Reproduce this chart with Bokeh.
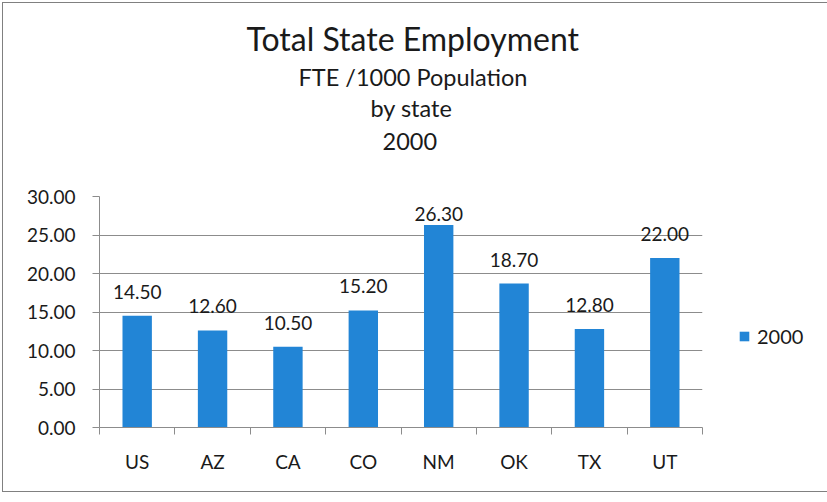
from bokeh.plotting import figure
from bokeh.models import (ColumnDataSource, LabelSet, Title, LinearAxis,
                          FixedTicker, NumeralTickFormatter, Legend, LegendItem)
from bokeh.core.properties import value
from bokeh.embed import file_html
from bokeh.resources import INLINE

states = ["US", "AZ", "CA", "CO", "NM", "OK", "TX", "UT"]
fte_2000 = [14.50, 12.60, 10.50, 15.20, 26.30, 18.70, 12.80, 22.00]
series_name = "2000"
y_ticks = [0, 5, 10, 15, 20, 25, 30]
title_lines = ["Total State Employment", "FTE /1000 Population", "by state", "2000"]

FONT = "Lato"
TXT = "#1a1a1a"
GRID = "#8c8c8c"
BAR = "#2285D6"

FRAME_W, FRAME_H = 603, 231
LEFT, RIGHT, TOP, BOTTOM = 99, 125, 196, 67
ymax = 30
px_per_unit = FRAME_H / ymax

p = figure(x_range=states, y_range=(0, ymax), frame_width=FRAME_W, frame_height=FRAME_H,
           output_backend="svg", toolbar_location=None,
           min_border_left=LEFT, min_border_right=RIGHT,
           min_border_top=TOP, min_border_bottom=BOTTOM)
p.styles = {"outline": "1px solid #808080", "outline-offset": "-3px", "background": "white"}
p.outline_line_color = None
p.background_fill_color = "white"
p.border_fill_color = None

labels_txt = ["%.2f" % v for v in fte_2000]
offsets = [min(24, (ymax - v) * px_per_unit - 17) for v in fte_2000]
src = ColumnDataSource(dict(state=states, val=fte_2000, lab=labels_txt, off=offsets))
r = p.vbar(x="state", top="val", width=0.39, source=src, fill_color=BAR, line_color=None)

ls = LabelSet(x="state", y="val", text="lab", source=src, y_offset="off",
              text_align="center", text_baseline="middle",
              text_font=value(FONT), text_font_size=value("19px"), text_color=TXT)
p.add_layout(ls)

# y axis
p.yaxis.ticker = FixedTicker(ticks=y_ticks)
p.yaxis.formatter = NumeralTickFormatter(format="0.00")
p.yaxis.axis_line_color = GRID
p.yaxis.major_tick_line_color = GRID
p.yaxis.major_tick_out = 7
p.yaxis.major_tick_in = 0
p.yaxis.minor_tick_line_color = None
p.yaxis.major_label_standoff = 17
p.yaxis.major_label_text_font = FONT
p.yaxis.major_label_text_font_size = "19px"
p.yaxis.major_label_text_color = TXT

p.ygrid.grid_line_color = GRID
p.ygrid.ticker = FixedTicker(ticks=y_ticks)
p.xgrid.grid_line_color = None

# x axis (categorical labels)
cat_axis = p.xaxis[0]
cat_axis.axis_line_color = None
cat_axis.major_tick_line_color = None
cat_axis.major_label_standoff = 9
cat_axis.major_label_text_font = FONT
cat_axis.major_label_text_font_size = "19px"
cat_axis.major_label_text_color = TXT

# boundary tick marks between categories (synthetic positions 0..N)
bounds = list(range(len(states) + 1))
tick_axis = LinearAxis(ticker=FixedTicker(ticks=bounds),
                       major_tick_out=7, major_tick_in=0,
                       minor_tick_line_color=None,
                       axis_line_color=GRID, major_tick_line_color=GRID,
                       major_label_overrides={b: "" for b in bounds},
                       major_label_text_font_size="1px", major_label_standoff=0)
p.add_layout(tick_axis, "below")
p.below = [tick_axis, cat_axis]

# legend in the right panel
legend = Legend(items=[LegendItem(label=series_name, renderers=[r])],
                location=(36, 79), orientation="vertical",
                glyph_width=12, glyph_height=12, label_standoff=7,
                label_text_font=FONT, label_text_font_size="20px",
                label_text_color=TXT, padding=0, margin=0, spacing=0,
                border_line_color=None, background_fill_alpha=0)
p.add_layout(legend, "right")

# titles, nearest the plot first (a blank spacer, then the four lines)
title_specs = [(" ", "10px", 23, 0),
               (title_lines[3], "23.5px", 17, 283),
               (title_lines[2], "23.5px", 2, 271),
               (title_lines[1], "23.5px", 0, 199),
               (title_lines[0], "32px", 5, 147)]
for txt, fs, so, off in title_specs:
    p.add_layout(Title(text=txt, align="left", offset=off, vertical_align="middle",
                       text_font=FONT, text_font_size=fs, text_font_style="normal",
                       text_color=TXT, standoff=so), "above")

open("out.html", "w").write(file_html(p, INLINE))
